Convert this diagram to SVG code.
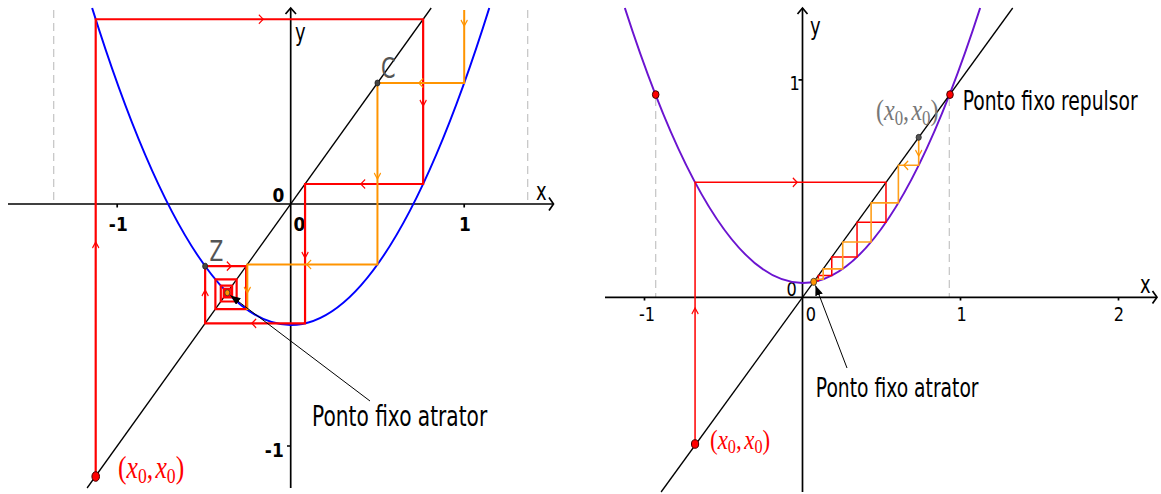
<svg xmlns="http://www.w3.org/2000/svg" width="1161" height="494" viewBox="0 0 1161 494">
<style>
.ax{stroke:#000;stroke-width:1.7;fill:none}
.dg{stroke:#000;stroke-width:1.3;fill:none}
.ds{stroke:#c4c4c4;stroke-width:1.2;stroke-dasharray:8 5;fill:none}
.rd{stroke:#ff0000;stroke-width:2.2;fill:none;stroke-linejoin:miter}
.og{stroke:#ff9400;stroke-width:2;fill:none}
.rd2{stroke:#ff0000;stroke-width:1.5;fill:none}
.og2{stroke:#ff9f1a;stroke-width:1.6;fill:none}
.cr{stroke:#ff0000;stroke-width:1.5;fill:none}
.co{stroke:#ff9400;stroke-width:1.5;fill:none}
.t{font-family:"DejaVu Sans","Liberation Sans",sans-serif;fill:#000}
.tb{font-family:"DejaVu Sans","Liberation Sans",sans-serif;font-weight:bold;font-size:20px;fill:#000}
.tn{font-family:"DejaVu Sans","Liberation Sans",sans-serif;font-size:19px;fill:#000}
.m{font-family:"Liberation Serif","DejaVu Serif",serif}
.ptr{stroke:#000;stroke-width:1;fill:none}
</style>
<defs>
<path id="chv" d="M-3,-4.5 L3,0 L-3,4.5"/>
<marker id="tip" viewBox="0 0 10 8" refX="10" refY="4" markerWidth="10" markerHeight="8" markerUnits="userSpaceOnUse" orient="auto"><path d="M0,0 L10,4 L0,8 z" fill="#000"/></marker>
</defs>
<rect width="1161" height="494" fill="#fff"/>

<g id="left-panel">
<g id="left-guides">
<line class="ds" x1="53.7" y1="10" x2="53.7" y2="204"/>
<line class="ds" x1="527.7" y1="10" x2="527.7" y2="204"/>
</g>
<g id="left-axes">
<path class="ax" d="M8,204 H553"/>
<path class="ax" d="M549,197.5 L553.5,204 L549,210.5"/>
<path class="ax" d="M290.7,488 V8"/>
<path class="ax" d="M285.5,14 L290.7,8 L296,14"/>
<path class="ax" d="M117.2,204 V207.5 M464.2,204 V207.5 M287,446 H290.7"/>
<text class="tb" text-anchor="middle" transform="translate(278.3,201.7) scale(0.85,1)">0</text>
<text class="tb" text-anchor="middle" transform="translate(299.3,230.5) scale(0.85,1)">0</text>
<text class="tb" text-anchor="middle" transform="translate(118.3,230.5) scale(0.85,1)">-1</text>
<text class="tb" text-anchor="middle" transform="translate(465,230.5) scale(0.85,1)">1</text>
<text class="tb" text-anchor="middle" transform="translate(274.3,456.5) scale(0.85,1)">-1</text>
<text class="t" font-size="24" transform="translate(536,200) scale(0.75,1)">x</text>
<text class="t" font-size="24" transform="translate(295,41) scale(0.75,1)">y</text>
</g>
<path id="left-parabola" d="M92.13,8 Q290.7,642 489.27,8" fill="none" stroke="#0000ff" stroke-width="2"/>
<path id="left-diagonal" class="dg" d="M87.1,488 L431.2,8"/>
<g id="left-cobweb">
<path class="rd" d="M95.7,476 V19.26 H423.15 V183.98 H305.06 V323.34 H205.14 V266.15 H246.15 V309.04 H215.39 V279.41 H236.64 V301.5 H220.8 V285.72 H232.11 V297.41 H223.73 V288.95 H229.8 V295.18 H225.33 V290.64 H228.58 V293.98 H226.19 V291.54 H227.94 V293.33"/>
<path class="og" d="M464.2,10 V83 H377.45 V264.5 H247.33 V309.88"/>
<use href="#chv" class="cr" transform="translate(95.7,245) scale(0.72,1) rotate(-90)"/>
<use href="#chv" class="cr" transform="translate(261,19.26) scale(0.72,1)"/>
<use href="#chv" class="cr" transform="translate(423.15,103) scale(0.72,1) rotate(90)"/>
<use href="#chv" class="cr" transform="translate(363,183.98) scale(0.72,1) rotate(180)"/>
<use href="#chv" class="cr" transform="translate(305.06,255) scale(0.72,1) rotate(90)"/>
<use href="#chv" class="cr" transform="translate(254,323.34) scale(0.72,1) rotate(180)"/>
<use href="#chv" class="cr" transform="translate(205.14,293) scale(0.72,1) rotate(-90)"/>
<use href="#chv" class="cr" transform="translate(229,266.15) scale(0.72,1)"/>
<use href="#chv" class="co" transform="translate(464.2,23) scale(0.72,1) rotate(90)"/>
<use href="#chv" class="co" transform="translate(421,83) scale(0.72,1) rotate(180)"/>
<use href="#chv" class="co" transform="translate(377.45,176) scale(0.72,1) rotate(90)"/>
<use href="#chv" class="co" transform="translate(309,264.5) scale(0.72,1) rotate(180)"/>
<use href="#chv" class="co" transform="translate(247.33,290) scale(0.72,1) rotate(90)"/>
</g>
<g id="left-point-C">
<ellipse cx="377.45" cy="83" rx="2.5" ry="3" fill="#444" stroke="#222" stroke-width="0.8"/>
<text class="t" font-size="29" style="fill:#555" transform="translate(381,77.5) scale(0.72,1)">C</text>
</g>
<g id="left-point-Z">
<ellipse cx="205.14" cy="266.15" rx="2.5" ry="3" fill="#444" stroke="#222" stroke-width="0.8"/>
<text class="t" font-size="28" style="fill:#555" transform="translate(209.5,260.7) scale(0.72,1)">Z</text>
</g>
<g id="left-attractor">
<ellipse cx="227.3" cy="292.8" rx="2.5" ry="3" fill="#ff9400" stroke="#333" stroke-width="0.8"/>
<path class="ptr" d="M370,401 L230.5,295.5" marker-end="url(#tip)"/>
<text class="t" font-size="28" transform="translate(312,425.7) scale(0.72,1)">Ponto fixo atrator</text>
</g>
<g id="left-x0">
<ellipse cx="95.7" cy="476.5" rx="3.8" ry="4.8" fill="#ff0000" stroke="#400" stroke-width="1"/>
<text class="m" font-size="32" fill="#ff0000" transform="translate(118,478) scale(0.8,1)">(<tspan font-style="italic">x</tspan><tspan font-size="22" dy="5">0</tspan><tspan dy="-5">,</tspan><tspan font-style="italic" dx="3">x</tspan><tspan font-size="22" dy="5">0</tspan><tspan dy="-5">)</tspan></text>
</g>
</g>

<g id="right-panel">
<g id="right-guides">
<line class="ds" x1="655.7" y1="98" x2="655.7" y2="297.3"/>
<line class="ds" x1="949.3" y1="98" x2="949.3" y2="297.3"/>
</g>
<g id="right-axes">
<path class="ax" d="M605,297.3 H1157"/>
<path class="ax" d="M1152.5,291 L1157,297.3 L1152.5,303.6"/>
<path class="ax" d="M802.5,492 V8"/>
<path class="ax" d="M797.5,14 L802.5,8 L807.5,14"/>
<path class="ax" d="M644.5,297.3 V300.5 M960.5,297.3 V300.5 M1118.5,297.3 V300.5 M798.5,79.8 H802.5"/>
<text class="tn" text-anchor="middle" transform="translate(794.7,89.5) scale(0.85,1)">1</text>
<text class="tn" text-anchor="middle" transform="translate(791.7,295.5) scale(0.85,1)">0</text>
<text class="tn" text-anchor="middle" transform="translate(811,320.5) scale(0.85,1)">0</text>
<text class="tn" text-anchor="middle" transform="translate(647,320.5) scale(0.85,1)">-1</text>
<text class="tn" text-anchor="middle" transform="translate(961.7,320.5) scale(0.85,1)">1</text>
<text class="tn" text-anchor="middle" transform="translate(1119,320.5) scale(0.85,1)">2</text>
<text class="t" font-size="24" transform="translate(1140,293) scale(0.75,1)">x</text>
<text class="t" font-size="24" transform="translate(810,35) scale(0.75,1)">y</text>
</g>
<path id="right-parabola" d="M624.86,8 Q802.5,557.9 980.14,8" fill="none" stroke="#6b14d0" stroke-width="2"/>
<path id="right-diagonal" class="dg" d="M661.1,492 L1012.7,8"/>
<g id="right-cobweb">
<path class="rd2" d="M695.06,445.2 V182.37 H885.99 V222.22 H857.04 V257.03 H831.76 V275.49 H818.35 V280.76 H814.52 V281.69 H813.84 V281.82"/>
<path class="og2" d="M918.69,137.35 V165.32 H898.38 V202.86 H871.11 V241.94 H842.72 V268.85 H823.17 V279.22 H815.63 V281.44 H814.02 V281.79"/>
<use href="#chv" class="cr" transform="translate(695.06,311) scale(0.72,1) rotate(-90)"/>
<use href="#chv" class="cr" transform="translate(795,182.37) scale(0.72,1)"/>
<use href="#chv" class="co" transform="translate(918.69,153) scale(0.72,1) rotate(90)"/>
<use href="#chv" class="co" transform="translate(906,165.32) scale(0.72,1) rotate(180)"/>
</g>
<g id="right-fixed-neg">
<ellipse cx="655.7" cy="94.6" rx="3.3" ry="3.9" fill="#ff0000" stroke="#400" stroke-width="1"/>
</g>
<g id="right-repulsor">
<ellipse cx="950" cy="94.6" rx="3.3" ry="3.9" fill="#ff0000" stroke="#400" stroke-width="1"/>
<text class="t" font-size="26" transform="translate(962.7,110) scale(0.72,1)">Ponto fixo repulsor</text>
</g>
<g id="right-x0-gray">
<ellipse cx="918.69" cy="137.35" rx="2.6" ry="3" fill="#555" stroke="#222" stroke-width="0.8"/>
<text class="m" font-size="30" fill="#777" transform="translate(876,119.5) scale(0.8,1)">(<tspan font-style="italic">x</tspan><tspan font-size="21" dy="5">0</tspan><tspan dy="-5">,</tspan><tspan font-style="italic" dx="3">x</tspan><tspan font-size="21" dy="5">0</tspan><tspan dy="-5">)</tspan></text>
</g>
<g id="right-attractor">
<ellipse cx="813.7" cy="281.8" rx="3" ry="3.6" fill="#ff9400" stroke="#333" stroke-width="0.8"/>
<path class="ptr" d="M847,368 L815.5,285.5" marker-end="url(#tip)"/>
<text class="t" font-size="26" transform="translate(815.8,396.7) scale(0.72,1)">Ponto fixo atrator</text>
</g>
<g id="right-x0">
<ellipse cx="695.06" cy="444" rx="3.6" ry="4.3" fill="#ff0000" stroke="#400" stroke-width="1"/>
<text class="m" font-size="27" fill="#ff0000" transform="translate(710,449) scale(0.85,1)">(<tspan font-style="italic">x</tspan><tspan font-size="19" dy="4">0</tspan><tspan dy="-4">,</tspan><tspan font-style="italic" dx="3">x</tspan><tspan font-size="19" dy="4">0</tspan><tspan dy="-4">)</tspan></text>
</g>
</g>
</svg>
